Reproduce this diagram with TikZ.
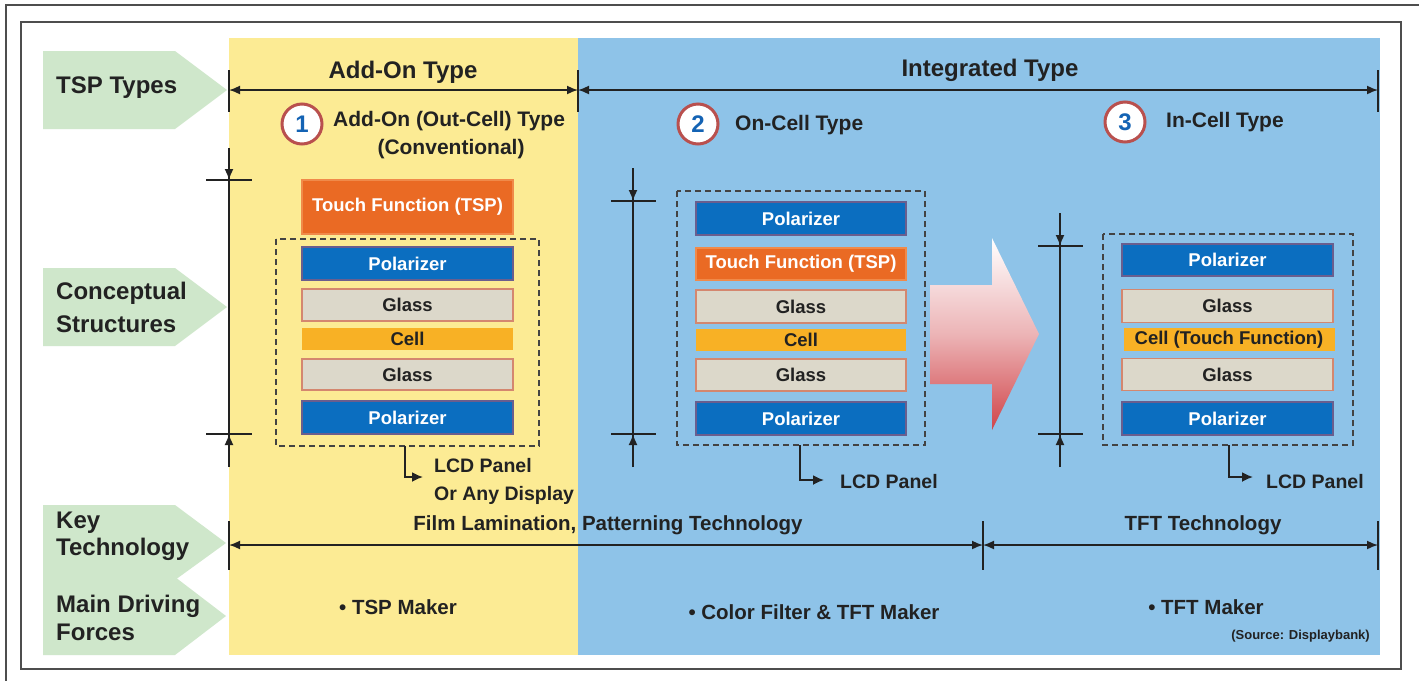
\documentclass[tikz,border=0pt]{standalone}
\usepackage{fontspec}
\setmainfont{Liberation Sans}
\usetikzlibrary{arrows.meta}
\definecolor{bgyellow}{HTML}{FCEB94}
\definecolor{bgblue}{HTML}{8EC3E8}
\definecolor{tabgreen}{HTML}{CFE7CB}
\definecolor{polfill}{HTML}{0B6EC0}
\definecolor{polline}{HTML}{6A5E8E}
\definecolor{tspfill}{HTML}{EA6A24}
\definecolor{tspline}{HTML}{F08A4A}
\definecolor{glfill}{HTML}{DCD8CA}
\definecolor{glline}{HTML}{D4876F}
\definecolor{cellfill}{HTML}{F8B125}
\definecolor{ink}{HTML}{222222}
\definecolor{numblue}{HTML}{1463B4}
\definecolor{ringred}{HTML}{B9504E}
\definecolor{arrowred}{HTML}{D04449}
\tikzset{
  fs/.style={font=\fontsize{#1}{#1}\selectfont\bfseries},
  layer/.style={line width=1.4pt, inner sep=0pt, minimum width=211pt, fs=18.5},
  polar/.style={layer, draw=polline, fill=polfill, text=white},
  tsp/.style={layer, draw=tspline, fill=tspfill, text=white},
  glass/.style={layer, draw=glline, fill=glfill, text=ink},
  cell/.style={layer, draw=none, fill=cellfill, text=ink},
  panel/.style={draw=ink!85, line width=1.5pt, dash pattern=on 6pt off 4pt},
  dimline/.style={draw=ink, line width=1.6pt},
  dimarrow/.style={draw=ink, line width=1.6pt, {Latex[length=11pt,width=9pt]}-{Latex[length=11pt,width=9pt]}},
  tickarrow/.style={draw=ink, line width=1.6pt, -{Latex[length=11pt,width=9pt]}},
  elbow/.style={draw=ink, line width=1.8pt, -{Latex[length=11pt,width=10pt]}},
  tab/.style={fill=tabgreen, draw=none},
  lbl/.style={text=ink, inner sep=0pt, fs=#1},
  numc/.style={circle, draw=ringred, line width=3pt, fill=white, minimum size=40pt, inner sep=0pt, text=numblue, fs=24},
}
\begin{document}
\begin{tikzpicture}[x=1pt,y=-1pt]
\useasboundingbox (0,0) rectangle (1419,681);
\fill[white] (0,0) rectangle (1419,681);
% frames
\draw[line width=1.2pt, draw=ink!80] (1419,5) -- (6,5) -- (6,681);
\draw[line width=1.6pt, draw=ink!80] (21,22) rectangle (1401,669);
% backgrounds
\fill[bgyellow] (229,38) rectangle (578,655);
\fill[bgblue] (578,38) rectangle (1380,655);
% green tabs
\fill[tab] (43,51) -- (175,51) -- (227,90) -- (175,129) -- (43,129) -- cycle;
\fill[tab] (43,268) -- (175,268) -- (227,307) -- (175,346) -- (43,346) -- cycle;
\fill[tab] (43,505) -- (175,505) -- (226,543) -- (175,580) -- (43,580) -- cycle;
\fill[tab] (43,577) -- (175,577) -- (226,616) -- (175,655) -- (43,655) -- cycle;
\node[lbl=24, anchor=west] (tsptypes) at (56,88) {TSP Types};
\node[lbl=24, anchor=west, align=left] (concept) at (56,307) {Conceptual\\[9pt]Structures};
\node[lbl=24, anchor=west, align=left] (keytech) at (56,536) {Key\\[3pt]Technology};
\node[lbl=24, anchor=west, align=left] (driving) at (56,618) {Main Driving\\[4pt]Forces};
% top dimension
\coordinate (t1) at (229,90); \coordinate (t2) at (578,90); \coordinate (t3) at (1378,90);
\draw[dimline] (229,70) -- (229,112) (578,70) -- (578,112) (1378,70) -- (1378,112);
\draw[dimarrow] (t1) -- (t2);
\draw[dimarrow] (t2) -- (t3);
\node[lbl=24] (addon) at (403,72) {Add-On Type};
\node[lbl=24] (integ) at (990,70) {Integrated Type};
% numbered headings
\node[numc] (n1) at (302,124) {1};
\node[numc] (n2) at (698,124) {2};
\node[numc] (n3) at (1125,122) {3};
\node[lbl=21, anchor=west] (h1) at (333,121) {Add-On (Out-Cell) Type};
\node[lbl=21] (h1b) at (451,149) {(Conventional)};
\node[lbl=21, anchor=west] (h2) at (735,125) {On-Cell Type};
\node[lbl=21, anchor=west] (h3) at (1166,122) {In-Cell Type};
% ---------- stack 1
\coordinate (a1) at (229,148); \coordinate (a2) at (229,180); \coordinate (a3) at (229,434); \coordinate (a4) at (229,467);
\draw[dimline] (a1) -- (a4);
\draw[dimline] (206,180) -- (252,180) (206,434) -- (252,434);
\draw[tickarrow] (a1) -- (a2);
\draw[tickarrow] (a4) -- (a3);
\node[tsp, minimum height=54pt] (s1tsp) at (407.5,207) {Touch Function (TSP)};
\draw[panel] (276,239) rectangle (539,446);
\coordinate (p1) at (405,446);
\node[polar, minimum height=33pt] (s1p1) at (407.5,263.5) {Polarizer};
\node[glass, minimum height=32pt] (s1g1) at (407.5,305) {Glass};
\node[cell, minimum height=22pt] (s1c) at (407.5,339) {Cell};
\node[glass, minimum height=31pt] (s1g2) at (407.5,374.5) {Glass};
\node[polar, minimum height=33pt] (s1p2) at (407.5,417.5) {Polarizer};
\coordinate (e1) at (423,477);
\draw[elbow] (p1) |- (e1);
\node[lbl=19.5, anchor=west] (lcd1) at (434,466) {LCD Panel};
\node[lbl=19.5, anchor=west] (any1) at (434,495) {Or Any Display};
% ---------- stack 2
\coordinate (b1) at (633,168); \coordinate (b2) at (633,201); \coordinate (b3) at (633,434); \coordinate (b4) at (633,467);
\draw[dimline] (b1) -- (b4);
\draw[dimline] (611,201) -- (656,201) (611,434) -- (656,434);
\draw[tickarrow] (b1) -- (b2);
\draw[tickarrow] (b4) -- (b3);
\draw[panel] (677,191) rectangle (925,445);
\coordinate (p2) at (800,445);
\node[polar, minimum height=33pt, minimum width=210pt] (s2p1) at (801,218.5) {Polarizer};
\node[tsp, minimum height=32pt, minimum width=210pt] (s2tsp) at (801,264) {Touch Function (TSP)};
\node[glass, minimum height=33pt, minimum width=210pt] (s2g1) at (801,306.5) {Glass};
\node[cell, minimum height=22pt, minimum width=210pt] (s2c) at (801,340) {Cell};
\node[glass, minimum height=32pt, minimum width=210pt] (s2g2) at (801,375) {Glass};
\node[polar, minimum height=33pt, minimum width=210pt] (s2p2) at (801,418.5) {Polarizer};
\coordinate (e2) at (824,480);
\draw[elbow] (p2) |- (e2);
\node[lbl=19.5, anchor=west] (lcd2) at (840,482) {LCD Panel};
% big arrow
\shade[left color=white, right color=arrowred, middle color=arrowred!40, shading angle=0]
  (930,285) -- (992,285) -- (992,238) -- (1039,334) -- (992,430) -- (992,384) -- (930,384) -- cycle;
% ---------- stack 3
\coordinate (c1) at (1060,213); \coordinate (c2) at (1060,246); \coordinate (c3) at (1060,434); \coordinate (c4) at (1060,467);
\draw[dimline] (c1) -- (c4);
\draw[dimline] (1038,246) -- (1083,246) (1038,434) -- (1083,434);
\draw[tickarrow] (c1) -- (c2);
\draw[tickarrow] (c4) -- (c3);
\draw[panel] (1103,234) rectangle (1353,445);
\coordinate (p3) at (1229,445);
\node[polar, minimum height=32pt] (s3p1) at (1227.5,260) {Polarizer};
\node[glass, minimum height=33pt] (s3g1) at (1227.5,306) {Glass};
\node[cell, minimum height=23pt] (s3c) at (1229,339.5) {Cell (Touch Function)};
\node[glass, minimum height=32pt] (s3g2) at (1227.5,374.5) {Glass};
\node[polar, minimum height=33pt] (s3p2) at (1227.5,418.5) {Polarizer};
\coordinate (e3) at (1253,477);
\draw[elbow] (p3) |- (e3);
\node[lbl=19.5, anchor=west] (lcd3) at (1266,482) {LCD Panel};
% bottom dimension
\coordinate (k1) at (229,545); \coordinate (k2) at (983,545); \coordinate (k3) at (1378,545);
\draw[dimline] (229,521) -- (229,570) (983,521) -- (983,570) (1378,521) -- (1378,570);
\draw[dimarrow] (k1) -- (k2);
\draw[dimarrow] (k2) -- (k3);
\node[lbl=20.5] (film) at (608,525) {Film Lamination, Patterning Technology};
\node[lbl=20.5] (tfttech) at (1203,525) {TFT Technology};
\node[lbl=20.5] (m1) at (398,607) {\textbullet\ TSP Maker};
\node[lbl=20.5] (m2) at (814,612) {\textbullet\ Color Filter \& TFT Maker};
\node[lbl=20.5] (m3) at (1206,607) {\textbullet\ TFT Maker};
\node[lbl=13, anchor=east] (src) at (1370,636) {(Source: Displaybank)};
\end{tikzpicture}
\end{document}
